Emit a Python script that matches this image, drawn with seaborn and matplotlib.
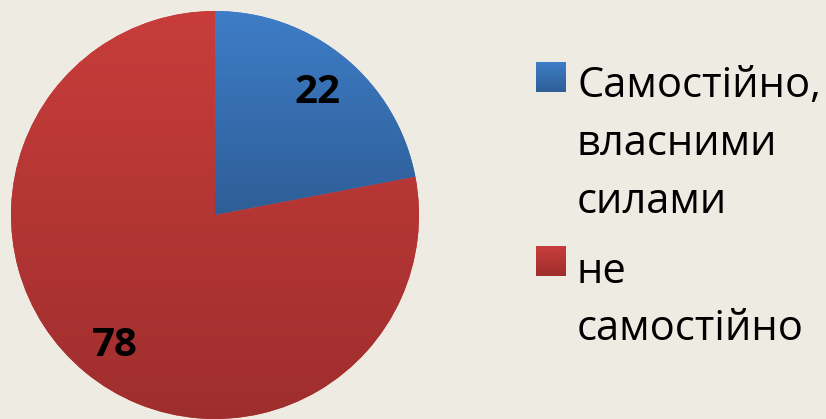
import numpy as np
import matplotlib
matplotlib.use("Agg")
import matplotlib.pyplot as plt
import seaborn as sns
from matplotlib.colors import LinearSegmentedColormap

categories = ["Самостійно,\nвласними\nсилами", "не\nсамостійно"]
values = [22, 78]
value_labels = ["22", "78"]

sns.set_theme(style="white")
plt.rcParams['font.family'] = ['Open Sans', 'DejaVu Sans']

bg = "#EEEBE2"
top_colors = ["#3E7DC7", "#C83D3B"]
bottom_colors = ["#2E5E97", "#9E2E2D"]

W, H = 826, 419
fig = plt.figure(figsize=(W / 100, H / 100), dpi=100, facecolor=bg)
cx, cy, R = 215, 215, 204
ax = fig.add_axes([(cx - R) / W, (H - cy - R) / H, 2 * R / W, 2 * R / H])
ax.set_facecolor(bg)

wedges, _ = ax.pie(values, startangle=90, counterclock=False, radius=1,
                   colors=top_colors, wedgeprops=dict(linewidth=0))
ax.set_xlim(-1, 1)
ax.set_ylim(-1, 1)
ax.set_aspect("equal")
ax.axis("off")

grad = np.linspace(0, 1, 256).reshape(-1, 1)

# vertical gradient fill per wedge, spanning each wedge's own vertical extent
for w, ct, cb in zip(wedges, top_colors, bottom_colors):
    verts = w.get_path().vertices
    ymin, ymax = verts[:, 1].min(), verts[:, 1].max()
    cmap = LinearSegmentedColormap.from_list("g", [cb, ct])
    im = ax.imshow(grad, cmap=cmap, extent=[-1, 1, ymin, ymax], origin="lower",
                   aspect="auto", zorder=2)
    im.set_clip_path(w)
ax.set_xlim(-1, 1)
ax.set_ylim(-1, 1)

label_pos = [(0.50, 0.60), (-0.49, -0.64)]
for (x, y), t in zip(label_pos, value_labels):
    ax.text(x, y, t, ha="center", va="center", fontsize=29, fontweight="bold",
            color="black", zorder=5)

# legend with gradient squares
sq = 30
item_tops = [62, 246]
line_baselines = [[97, 155, 213], [283, 340]]
for i, cat in enumerate(categories):
    y0 = item_tops[i]
    lax = fig.add_axes([536 / W, (H - y0 - sq) / H, sq / W, sq / H])
    cmap = LinearSegmentedColormap.from_list("l", [bottom_colors[i], top_colors[i]])
    lax.imshow(grad, cmap=cmap, origin="lower", aspect="auto",
               extent=[0, 1, 0, 1])
    lax.axis("off")
    for line, b in zip(cat.split("\n"), line_baselines[i]):
        fig.text(577 / W, (H - b) / H, line, ha="left", va="baseline",
                 fontsize=30, color="black")

fig.savefig("out.png", dpi=100, facecolor=bg)
